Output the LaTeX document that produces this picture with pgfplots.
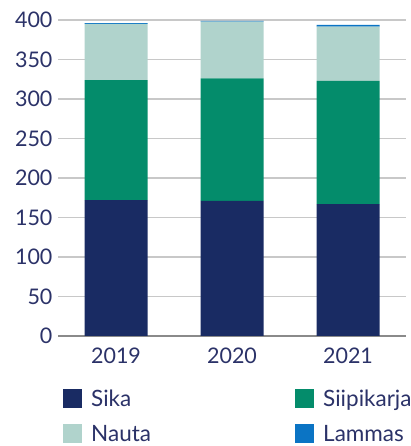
\documentclass[border=0pt]{standalone}
\usepackage{pgfplots}
\pgfplotsset{compat=1.18}
\usepackage{fontspec}
\setmainfont{Lato}
\definecolor{txt}{HTML}{2B3268}
\definecolor{sika}{HTML}{192B63}
\definecolor{siip}{HTML}{048C6B}
\definecolor{nauta}{HTML}{B0D3CC}
\definecolor{lammas}{HTML}{0B74C4}
\definecolor{gridc}{HTML}{C8C8C8}
\definecolor{basec}{HTML}{8A8A8A}
\begin{document}
\begin{tikzpicture}
\clip (0,0) rectangle (410pt,446pt);
\begin{axis}[
  at={(58pt,110pt)}, anchor=south west,
  scale only axis, width=348pt, height=316pt,
  xmin=-0.5, xmax=2.5, ymin=0, ymax=400,
  ybar stacked, bar width=63pt,
  xtick={0,1,2}, xticklabels={2019,2020,2021},
  ytick={50,100,...,400},
  extra y ticks={0}, extra y tick labels={0},
  extra y tick style={grid style={color=basec, line width=1.2pt}},
  ymajorgrids, grid style={color=gridc, line width=1.2pt},
  axis line style={draw=none},
  major tick length=0pt,
  tick label style={font=\fontsize{21.5}{25}\selectfont, text=txt},
  /pgf/number format/assume math mode=true,
  yticklabel style={xshift=-2pt},
  xticklabel style={yshift=-8pt},
  legend columns=2,
  legend cell align=left,
  legend style={at={(0,0)}, anchor=north west, xshift=5pt, yshift=-53pt,
    draw=none, fill=none, inner sep=0pt, column sep=9pt, row sep=16pt,
    nodes={inner sep=0pt, font=\fontsize{22.5}{26}\selectfont, text=txt}},
  legend image code/.code={\fill[#1] (0pt,-9.5pt) rectangle (19pt,9.5pt);},
]
\addplot[fill=sika, draw=none] coordinates {(0,172) (1,171) (2,167)};
\addplot[fill=siip, draw=none] coordinates {(0,152) (1,155) (2,156)};
\addplot[fill=nauta, draw=none] coordinates {(0,71) (1,72) (2,68.5)};
\addplot[fill=lammas, draw=none] coordinates {(0,1) (1,1) (2,2.2)};
\legend{\makebox[195pt][l]{Sika}, Siipikarja, \makebox[195pt][l]{Nauta}, Lammas}
\end{axis}
\end{tikzpicture}
\end{document}
